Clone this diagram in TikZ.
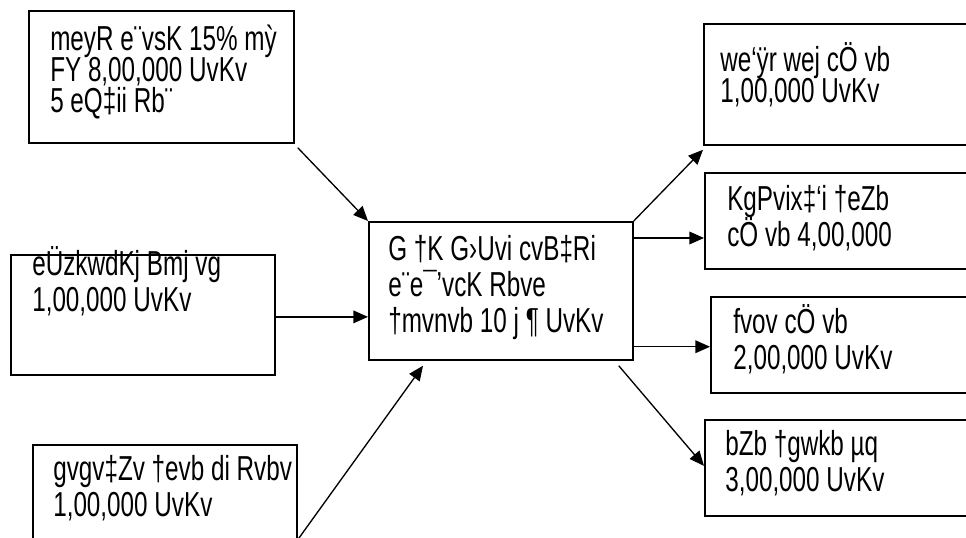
\documentclass[tikz,border=0pt]{standalone}
\usepackage{fontspec}
\setmainfont[FakeStretch=0.70]{Liberation Sans}
\usetikzlibrary{arrows.meta}
\newcommand{\hstrut}{\rule{0pt}{24pt}}
\newcommand{\nolineskip}{\lineskiplimit=-20pt\relax}

\begin{document}
\begin{tikzpicture}[x=0.75pt,y=-0.75pt,
    box/.style={draw,line width=1.3pt,anchor=north west,inner sep=0pt},
    txt/.style={anchor=north west,inner sep=0pt,align=left,
      font=\fontsize{26pt}{27pt}\selectfont\nolineskip},
    tight/.style={font=\fontsize{26pt}{23.5pt}\selectfont\nolineskip},
    flow/.style={line width=1pt,-{Triangle[length=11pt,width=9.5pt]}}]
  \clip (0,0) rectangle (966,538);
  \fill[white] (0,0) rectangle (966,538);
  % left side: sources of money
  \node[box,minimum width=198.75pt,minimum height=99pt] (loan) at (28,10) {};
  \node[txt,tight] (loantxt) at (50,18)
    {\hstrut meyR e¨vsK 15\% mỳ\\FY 8,00,000 UvKv\\5 eQ‡ii Rb¨};
  \node[box,minimum width=198pt,minimum height=90pt] (frnd) at (10,254) {};
  \node[txt] (frndtxt) at (32,243)
    {\hstrut eÜzkwdKj Bmj vg\\1,00,000 UvKv};
  \node[box,minimum width=198pt,minimum height=90pt] (uncle) at (32,444) {};
  \node[txt] (uncletxt) at (53,448)
    {\hstrut gvgv‡Zv †evb di Rvbv\\1,00,000 UvKv};
  % the firm
  \node[box,minimum width=198pt,minimum height=103.5pt] (firm) at (368,221) {};
  \node[txt] (firmtxt) at (388,228)
    {\hstrut G †K G›Uvi cvB‡Ri\\e¨e¯’vcK Rbve\\†mvnvb 10 j ¶ UvKv};
  % right side: payments
  \node[box,minimum width=225pt,minimum height=90.75pt] (bill) at (703,23) {};
  \node[txt,tight] (billtxt) at (720,39)
    {\hstrut we`ÿr wej cÖ vb\\1,00,000 UvKv};
  \node[box,minimum width=225pt,minimum height=72pt] (wage) at (704,172) {};
  \node[txt] (wagetxt) at (727,178)
    {\hstrut KgPvix‡`i †eZb\\cÖ vb 4,00,000};
  \node[box,minimum width=225pt,minimum height=72pt] (rent) at (710,296) {};
  \node[txt] (renttxt) at (733,301)
    {\hstrut fvov cÖ vb\\2,00,000 UvKv};
  \node[box,minimum width=225pt,minimum height=72pt] (mach) at (704,419) {};
  \node[txt] (machtxt) at (725,423)
    {\hstrut bZb †gwkb µq\\3,00,000 UvKv};
  % arrows
  \draw[flow] ([shift={(3,4)}]loan.south east) -- (firm.north west);
  \draw[flow] ([yshift=-1.5pt]frnd.east) -- ([yshift=-1.5pt]frnd.east -| firm.west);
  \draw[flow] ([shift={(0,-26)}]uncle.south east) -- ([shift={(55,5)}]firm.south west);
  \draw[flow] (firm.north east) -- ([shift={(0,4)}]bill.south west);
  \draw[flow] ([shift={(0,17)}]firm.north east) -- ([shift={(0,17)}]firm.north east -| wage.west);
  \draw[flow] ([shift={(0,-14)}]firm.south east) -- ([shift={(0,-14)}]firm.south east -| rent.west);
  \draw[flow] ([shift={(-15,5)}]firm.south east) -- ([shift={(0,-2)}]mach.west);
\end{tikzpicture}
\end{document}
